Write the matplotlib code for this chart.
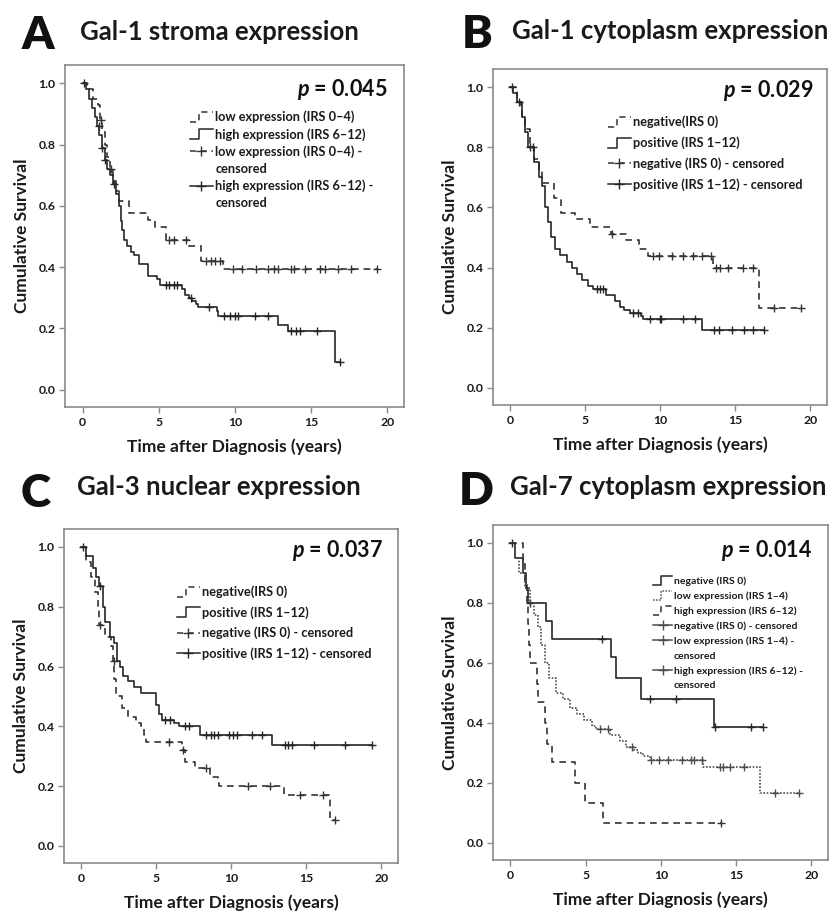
import matplotlib
matplotlib.use("Agg")
import matplotlib.pyplot as plt
import numpy as np
from matplotlib.lines import Line2D
from matplotlib.legend_handler import HandlerBase

plt.rcParams["font.family"] = ["Lato", "DejaVu Sans"]
plt.rcParams["font.weight"] = "bold"
plt.rcParams["axes.labelweight"] = "bold"
plt.rcParams["mathtext.fontset"] = "custom"
plt.rcParams["mathtext.it"] = "Lato:italic:bold"
plt.rcParams["mathtext.rm"] = "Lato:bold"

# ---- A: Gal-1 stroma ----
a_low_t = [0.3, 0.7, 1.0, 1.15, 1.25, 1.45, 1.6, 1.8, 2.0, 2.2, 2.4, 3.05, 4.3, 4.75, 5.45, 7.0, 7.8, 9.2]
a_low_s = [0.98, 0.95, 0.93, 0.88, 0.84, 0.80, 0.76, 0.72, 0.68, 0.65, 0.615, 0.575, 0.555, 0.53, 0.49, 0.47, 0.42, 0.393]
a_low_end = 19.3
a_low_cens = [1.2, 1.9, 5.7, 6.0, 6.8, 8.1, 8.4, 8.7, 9.0, 9.86, 10.5, 11.4, 12.2, 12.6, 12.8,
              13.7, 13.9, 14.6, 15.6, 15.9, 16.8, 17.6, 19.3]
a_high_t = [0.2, 0.45, 0.65, 0.8, 0.95, 1.1, 1.25, 1.45, 1.6, 1.8, 2.0, 2.2, 2.4, 2.5, 2.6, 2.75, 2.95,
            3.2, 3.4, 3.7, 4.3, 4.9, 5.1, 6.5, 6.75, 7.0, 7.2, 7.45, 7.6, 8.8, 8.9, 12.8, 13.5, 16.6]
a_high_s = [0.98, 0.95, 0.92, 0.89, 0.86, 0.83, 0.79, 0.75, 0.72, 0.70, 0.67, 0.64, 0.60, 0.55, 0.52,
            0.49, 0.47, 0.45, 0.44, 0.41, 0.37, 0.36, 0.34, 0.33, 0.31, 0.30, 0.29, 0.28, 0.27, 0.255,
            0.24, 0.21, 0.19, 0.09]
a_high_end = 16.9
a_high_cens = [0.1, 1.05, 1.3, 1.5, 2.05, 5.5, 5.7, 6.0, 6.2, 7.1, 8.3, 9.3, 9.7, 10.0, 10.2, 11.3,
               12.2, 13.7, 14.0, 14.3, 15.4, 16.9]

# ---- B: Gal-1 cytoplasm ----
b_neg_t = [0.45, 0.7, 0.8, 1.0, 1.3, 1.55, 1.9, 2.1, 2.9, 3.4, 4.3, 5.3, 6.7, 7.7, 8.6, 9.2, 13.5, 16.6]
b_neg_s = [0.95, 0.92, 0.90, 0.86, 0.80, 0.76, 0.72, 0.68, 0.63, 0.58, 0.56, 0.535, 0.51, 0.49, 0.46,
           0.437, 0.40, 0.266]
b_neg_end = 19.4
b_neg_cens = [6.75, 9.5, 9.9, 10.8, 11.5, 12.2, 12.8, 13.4, 13.7, 14.0, 14.5, 15.5, 16.2, 17.6, 19.4]
b_pos_t = [0.2, 0.45, 0.75, 1.0, 1.2, 1.55, 1.9, 2.1, 2.3, 2.5, 2.7, 2.95, 3.3, 3.75, 4.1, 4.45, 4.75,
           5.2, 5.5, 6.4, 6.95, 7.3, 7.6, 8.0, 8.7, 8.85, 12.8]
b_pos_s = [0.98, 0.95, 0.90, 0.85, 0.80, 0.75, 0.70, 0.67, 0.60, 0.55, 0.50, 0.46, 0.44, 0.42, 0.40,
           0.38, 0.36, 0.34, 0.329, 0.31, 0.29, 0.27, 0.26, 0.249, 0.24, 0.23, 0.192]
b_pos_end = 16.9
b_pos_cens = [0.1, 0.6, 1.3, 1.5, 5.75, 5.97, 6.2, 8.2, 8.5, 9.3, 9.95, 10.05, 11.5, 12.3, 13.6,
              13.9, 14.8, 15.6, 16.2, 16.9]

# ---- C: Gal-3 nuclear ----
c_neg_t = [0.3, 0.65, 0.9, 1.1, 1.2, 1.6, 2.0, 2.1, 2.2, 2.3, 2.7, 3.1, 3.65, 3.95, 4.2, 4.3, 6.7,
           6.9, 7.6, 8.6, 9.1, 9.2, 13.5, 16.6]
c_neg_s = [0.95, 0.90, 0.85, 0.80, 0.74, 0.70, 0.67, 0.62, 0.56, 0.50, 0.46, 0.43, 0.41, 0.40, 0.37,
           0.349, 0.32, 0.28, 0.26, 0.23, 0.21, 0.20, 0.171, 0.086]
c_neg_end = 16.9
c_neg_cens = [1.25, 2.15, 5.87, 6.75, 8.3, 11.1, 12.6, 14.6, 16.1, 16.9]
c_pos_t = [0.3, 0.75, 1.0, 1.2, 1.45, 1.6, 1.9, 2.2, 2.4, 2.55, 2.8, 3.1, 3.5, 4.0, 4.95, 5.2, 5.4,
           6.2, 6.5, 7.9, 12.7]
c_pos_s = [0.97, 0.93, 0.90, 0.87, 0.80, 0.75, 0.70, 0.68, 0.62, 0.60, 0.57, 0.55, 0.53, 0.512, 0.47,
           0.44, 0.42, 0.41, 0.40, 0.371, 0.338]
c_pos_end = 19.4
c_pos_cens = [0.1, 1.25, 5.6, 5.9, 6.9, 7.2, 8.3, 8.64, 8.86, 9.08, 9.86, 10.08, 10.4, 11.4, 12.07,
              13.6, 13.8, 14.06, 15.5, 17.6, 19.4]

# ---- D: Gal-7 cytoplasm ----
d_neg_t = [0.3, 0.85, 1.05, 1.2, 2.4, 2.8, 6.7, 7.0, 8.7, 13.5]
d_neg_s = [0.95, 0.90, 0.85, 0.80, 0.74, 0.68, 0.62, 0.55, 0.48, 0.385]
d_neg_end = 16.8
d_neg_cens = [0.1, 1.3, 6.1, 9.3, 11.0, 13.6, 16.0, 16.8]
d_low_t = [0.3, 0.6, 0.95, 1.3, 1.6, 1.85, 2.05, 2.3, 2.6, 3.05, 3.5, 3.95, 4.4, 4.9, 5.4, 5.7, 6.6,
           7.3, 7.7, 8.2, 8.5, 8.8, 9.3, 12.8, 16.6]
d_low_s = [0.95, 0.90, 0.85, 0.80, 0.76, 0.72, 0.66, 0.60, 0.55, 0.50, 0.48, 0.45, 0.43, 0.41, 0.39,
           0.38, 0.36, 0.34, 0.32, 0.31, 0.30, 0.29, 0.275, 0.254, 0.167]
d_low_end = 19.2
d_low_cens = [5.94, 6.5, 8.1, 9.37, 9.9, 10.5, 11.4, 12.0, 12.2, 12.7, 13.9, 14.1, 14.6, 15.5, 17.6, 19.2]
d_high_t = [0.85, 0.95, 1.1, 1.2, 1.25, 1.3, 1.75, 1.85, 2.3, 2.45, 2.8, 4.3, 4.95, 6.15]
d_high_s = [0.93, 0.87, 0.80, 0.73, 0.66, 0.60, 0.53, 0.47, 0.40, 0.33, 0.27, 0.20, 0.134, 0.067]
d_high_end = 14.0
d_high_cens = [14.0]

DARK = "#262626"
DASHC = "#333333"
GRAY = "#4d4d4d"
DASH = (0, (4, 3))
DOTS = (0, (1, 1))


class StepHandler(HandlerBase):
    # little step icon like the SPSS legend
    def create_artists(self, legend, orig_handle, xdescent, ydescent, width, height, fontsize, trans):
        x0, y0 = -xdescent, -ydescent
        xs = [x0, x0 + 0.4 * width, x0 + 0.4 * width, x0 + width]
        ys = [y0 - 0.1 * height, y0 - 0.1 * height, y0 + 1.05 * height, y0 + 1.05 * height]
        line = Line2D(xs, ys)
        line.update_from(orig_handle)
        line.set_transform(trans)
        return [line]


def km(ax, times, surv, end, cens, color, ls):
    x = [0] + times + [end]
    y = [1.0] + surv + [surv[-1]]
    ax.step(x, y, where="post", color=color, linestyle=ls, linewidth=1.2)
    idx = np.searchsorted(times, cens, side="right")
    cy = np.r_[1.0, surv][idx]
    ax.plot(cens, cy, "+", color=color, markersize=6, markeredgewidth=1.0)


fig = plt.figure(figsize=(8.38, 9.16), dpi=100)
W, H = 838, 916


def px_axes(left, top, right, bottom):
    return fig.add_axes([left / W, 1 - bottom / H, (right - left) / W, (bottom - top) / H])


def style_axes(ax):
    ax.set_xlim(-1.15, 21.1)
    ax.set_ylim(-0.057, 1.06)
    ax.set_xticks([0, 5, 10, 15, 20])
    ax.set_yticks([0.0, 0.2, 0.4, 0.6, 0.8, 1.0])
    ax.set_yticklabels(["0.0", "0.2", "0.4", "0.6", "0.8", "1.0"])
    for s in ax.spines.values():
        s.set_color("#8a8a8a")
        s.set_linewidth(1.2)
    ax.tick_params(length=4, width=1, color="#8a8a8a", labelsize=8.8, pad=3, labelcolor="#1a1a1a")
    for lbl in ax.get_xticklabels() + ax.get_yticklabels():
        lbl.set_fontweight("bold")
    ax.set_xlabel("Time after Diagnosis (years)", fontsize=12.5, fontweight="bold", labelpad=8,
                  color="#1a1a1a")
    ax.set_ylabel("Cumulative Survival", fontsize=12.5, fontweight="bold", labelpad=6,
                  color="#1a1a1a")


def add_legend(ax, entries, anchor, fontsize, spacing):
    handles, labels, hmap = [], [], {}
    for label, color, ls, kind in entries:
        if kind == "step":
            h = Line2D([], [], color=color, linestyle=ls, linewidth=1.1)
            hmap[h] = StepHandler()
        elif kind == "cens":
            h = Line2D([], [], color=color, linestyle=ls, linewidth=1.1, marker="+",
                       markersize=7, markeredgewidth=1.0)
        else:
            h = Line2D([], [], color="none")
        handles.append(h)
        labels.append(label)
    leg = ax.legend(handles, labels, handler_map=hmap, loc="upper left", bbox_to_anchor=anchor,
                    frameon=False, fontsize=fontsize, handlelength=1.8, handletextpad=0.2,
                    labelspacing=spacing, borderaxespad=0, borderpad=0, numpoints=1)
    for t in leg.get_texts():
        t.set_fontweight("bold")
        t.set_color("#1a1a1a")


def p_text(ax, x, y, txt):
    ax.text(x, y, r"$p$ = " + txt, transform=ax.transAxes, ha="right", va="center",
            fontsize=15.5, fontweight="bold", color="#111111")


def panel_title(letter, lx, lbase, title, tx, tbase):
    fig.text(lx / W, 1 - lbase / H, letter, fontsize=33, fontweight="heavy", va="baseline",
             color="#111111")
    fig.text(tx / W, 1 - tbase / H, title, fontsize=18.5, fontweight="bold", va="baseline",
             color="#1a1a1a")


# A
axA = px_axes(65, 65, 404, 407)
km(axA, a_low_t, a_low_s, a_low_end, a_low_cens, DASHC, DASH)
km(axA, a_high_t, a_high_s, a_high_end, a_high_cens, DARK, "-")
style_axes(axA)
p_text(axA, 0.95, 0.927, "0.045")
add_legend(axA, [
    ("low expression (IRS 0–4)", DASHC, DASH, "step"),
    ("high expression (IRS 6–12)", DARK, "-", "step"),
    ("low expression (IRS 0–4) -", DASHC, DASH, "cens"),
    ("censored", None, None, "blank"),
    ("high expression (IRS 6–12) -", DARK, "-", "cens"),
    ("censored", None, None, "blank"),
], (0.368, 0.867), 9.2, 0.37)
panel_title("A", 22, 49, "Gal-1 stroma expression", 80, 40)

# B
axB = px_axes(493, 69, 827, 405)
km(axB, b_neg_t, b_neg_s, b_neg_end, b_neg_cens, DASHC, DASH)
km(axB, b_pos_t, b_pos_s, b_pos_end, b_pos_cens, DARK, "-")
style_axes(axB)
p_text(axB, 0.958, 0.935, "0.029")
add_legend(axB, [
    ("negative(IRS 0)", DASHC, DASH, "step"),
    ("positive (IRS 1–12)", DARK, "-", "step"),
    ("negative (IRS 0) - censored", DASHC, DASH, "cens"),
    ("positive (IRS 1–12) - censored", DARK, "-", "cens"),
], (0.344, 0.861), 9.2, 0.63)
panel_title("B", 462, 48, "Gal-1 cytoplasm expression", 512, 39)

# C
axC = px_axes(64, 529, 398, 863)
km(axC, c_neg_t, c_neg_s, c_neg_end, c_neg_cens, DASHC, DASH)
km(axC, c_pos_t, c_pos_s, c_pos_end, c_pos_cens, DARK, "-")
style_axes(axC)
p_text(axC, 0.955, 0.937, "0.037")
add_legend(axC, [
    ("negative(IRS 0)", DASHC, DASH, "step"),
    ("positive (IRS 1–12)", DARK, "-", "step"),
    ("negative (IRS 0) - censored", DASHC, DASH, "cens"),
    ("positive (IRS 1–12) - censored", DARK, "-", "cens"),
], (0.338, 0.831), 9.2, 0.61)
panel_title("C", 21, 507, "Gal-3 nuclear expression", 77, 495)

# D
axD = px_axes(493, 525, 828, 860)
km(axD, d_neg_t, d_neg_s, d_neg_end, d_neg_cens, DARK, "-")
km(axD, d_low_t, d_low_s, d_low_end, d_low_cens, GRAY, DOTS)
km(axD, d_high_t, d_high_s, d_high_end, d_high_cens, DASHC, DASH)
style_axes(axD)
p_text(axD, 0.952, 0.925, "0.014")
add_legend(axD, [
    ("negative (IRS 0)", DARK, "-", "step"),
    ("low expression (IRS 1–4)", GRAY, DOTS, "step"),
    ("high expression (IRS 6–12)", DASHC, DASH, "step"),
    ("negative (IRS 0) - censored", GRAY, "-", "cens"),
    ("low expression (IRS 1–4) -", GRAY, "-", "cens"),
    ("censored", None, None, "blank"),
    ("high expression (IRS 6–12) -", GRAY, "-", "cens"),
    ("censored", None, None, "blank"),
], (0.478, 0.846), 7.5, 0.52)
panel_title("D", 459, 505, "Gal-7 cytoplasm expression", 510, 495)

fig.savefig("out.png", dpi=100, facecolor="white")
